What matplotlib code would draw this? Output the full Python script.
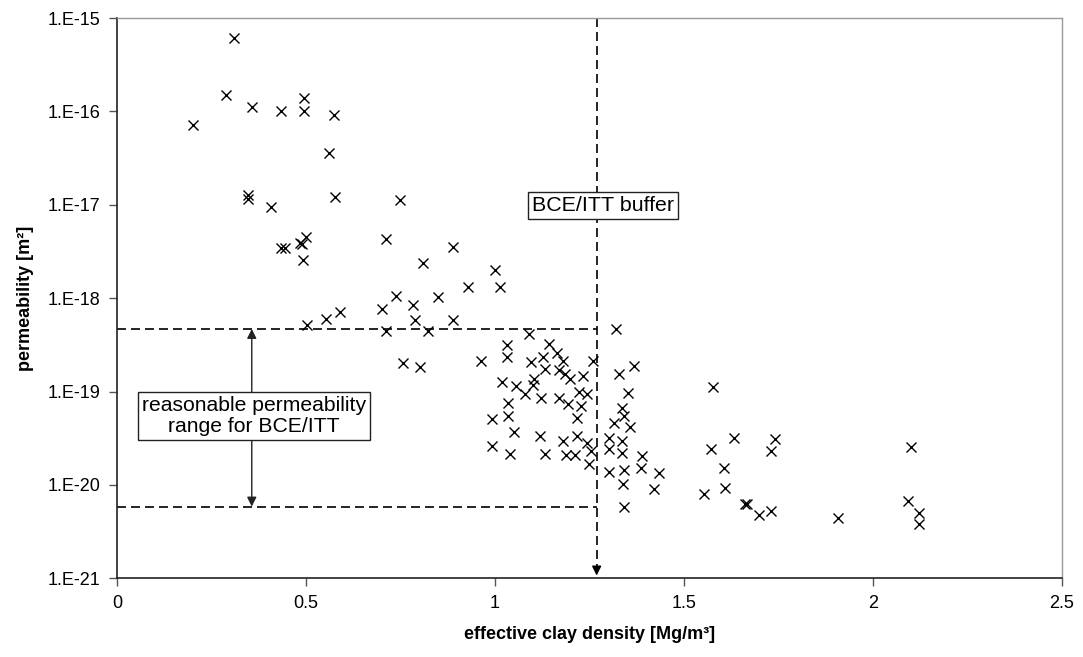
import numpy as np
import matplotlib
matplotlib.use("Agg")
import matplotlib.pyplot as plt
from matplotlib.ticker import FixedLocator, FuncFormatter

plt.rcParams['font.family'] = ['Liberation Sans', 'DejaVu Sans']

# effective clay density [Mg/m3] and permeability [m2]
density = [0.200, 0.289, 0.308, 0.346, 0.346, 0.357, 0.407, 0.433, 0.434, 0.443,
           0.483, 0.489, 0.492, 0.494, 0.494, 0.500, 0.501, 0.553, 0.560, 0.573,
           0.577, 0.590, 0.700, 0.711, 0.711, 0.737, 0.748, 0.757, 0.784, 0.788,
           0.801, 0.810, 0.823, 0.850, 0.890, 0.890, 0.929, 0.962, 0.991, 0.991,
           1.000, 1.013, 1.018, 1.031, 1.031, 1.034, 1.034, 1.040, 1.049, 1.056,
           1.079, 1.091, 1.094, 1.100, 1.104, 1.119, 1.122, 1.128, 1.131, 1.132,
           1.144, 1.163, 1.168, 1.168, 1.179, 1.181, 1.185, 1.188, 1.192, 1.199,
           1.212, 1.216, 1.216, 1.223, 1.228, 1.232, 1.243, 1.243, 1.249, 1.253,
           1.259, 1.303, 1.303, 1.303, 1.316, 1.320, 1.329, 1.337, 1.337, 1.337,
           1.340, 1.342, 1.342, 1.342, 1.353, 1.357, 1.369, 1.387, 1.388, 1.422,
           1.433, 1.554, 1.572, 1.578, 1.606, 1.609, 1.633, 1.662, 1.666, 1.699,
           1.731, 1.730, 1.741, 1.909, 2.092, 2.100, 2.123, 2.123]
permeability = [7.1e-17, 1.50e-16, 6.15e-16, 1.27e-17, 1.15e-17, 1.12e-16, 9.4e-18, 1.01e-16, 3.47e-18, 3.47e-18,
                3.87e-18, 3.8e-18, 2.57e-18, 1.38e-16, 1.01e-16, 4.5e-18, 5.16e-19, 5.98e-19, 3.56e-17, 9.1e-17,
                1.22e-17, 7.06e-19, 7.66e-19, 4.3e-18, 4.49e-19, 1.06e-18, 1.12e-17, 2.0e-19, 8.45e-19, 5.84e-19,
                1.82e-19, 2.37e-18, 4.49e-19, 1.04e-18, 3.5e-18, 5.9e-19, 1.33e-18, 2.14e-19, 5.05e-20, 2.62e-20,
                2.0e-18, 1.33e-18, 1.26e-19, 3.15e-19, 2.33e-19, 7.5e-20, 5.48e-20, 2.15e-20, 3.72e-20, 1.15e-19,
                9.36e-20, 4.14e-19, 2.06e-19, 1.18e-19, 1.36e-19, 3.35e-20, 8.6e-20, 2.33e-19, 2.15e-20, 1.73e-19,
                3.24e-19, 2.57e-19, 1.70e-19, 8.6e-20, 2.14e-19, 2.96e-20, 1.54e-19, 2.1e-20, 7.3e-20, 1.36e-19,
                2.1e-20, 5.26e-20, 3.35e-20, 9.98e-20, 7.0e-20, 1.47e-19, 9.36e-20, 2.84e-20, 1.66e-20, 2.33e-20,
                2.14e-19, 3.21e-20, 2.41e-20, 1.39e-20, 4.65e-20, 4.66e-19, 1.53e-19, 6.73e-20, 2.96e-20, 2.18e-20,
                1.02e-20, 5.48e-20, 1.45e-20, 5.86e-21, 9.73e-20, 4.15e-20, 1.88e-19, 1.53e-20, 2.04e-20, 9.0e-21,
                1.35e-20, 7.9e-21, 2.41e-20, 1.11e-19, 1.53e-20, 9.35e-21, 3.21e-20, 6.2e-21, 6.2e-21, 4.78e-21,
                5.27e-21, 2.31e-20, 3.08e-20, 4.4e-21, 6.75e-21, 2.57e-20, 5.06e-21, 3.8e-21]

buffer_density = 1.269
range_upper = 4.68e-19
range_lower = 5.86e-21

x_ticks = [0, 0.5, 1, 1.5, 2, 2.5]
y_ticks = [1e-21, 1e-20, 1e-19, 1e-18, 1e-17, 1e-16, 1e-15]

fig = plt.figure(figsize=(10.83, 6.57), dpi=100)
ax = fig.add_axes([0.1083, 0.1198, 0.872, 0.8528])

ax.plot(density, permeability, linestyle='none', marker='x', color='black',
        markersize=6.5, markeredgewidth=1.0, zorder=3)

ax.set_yscale('log')
ax.set_xlim(0, 2.5)
ax.set_ylim(1e-21, 1e-15)

dash = (0, (5.4, 3))
# range lines and buffer line
ax.plot([0, buffer_density], [range_upper, range_upper], color='black', lw=1.2, linestyle=dash, zorder=2)
ax.plot([0, buffer_density], [range_lower, range_lower], color='black', lw=1.2, linestyle=dash, zorder=2)
ax.plot([buffer_density, buffer_density], [1e-15, 1.12e-21], color='black', lw=1.2, linestyle=dash, zorder=2)
ax.annotate('', xy=(buffer_density, 1e-21), xytext=(buffer_density, 1.3e-21),
            arrowprops=dict(arrowstyle='-|>', color='black', lw=1.0, mutation_scale=14), zorder=2)

# double arrow for the reasonable range
ax.annotate('', xy=(0.356, range_lower), xytext=(0.356, range_upper),
            arrowprops=dict(arrowstyle='<|-|>', color='#222222', lw=1.0, mutation_scale=14,
                            shrinkA=0, shrinkB=0), zorder=2)

ax.text(0.362, 5.5e-20, 'reasonable permeability\nrange for BCE/ITT', ha='center', va='center',
        fontsize=15.2, linespacing=1.15, zorder=4,
        bbox=dict(boxstyle='square,pad=0.18', facecolor='white', edgecolor='#222222', lw=1.0))
ax.text(1.286, 9.75e-18, 'BCE/ITT buffer', ha='center', va='center', fontsize=15.4, zorder=4,
        bbox=dict(boxstyle='square,pad=0.18', facecolor='white', edgecolor='#222222', lw=1.0))

ax.xaxis.set_major_locator(FixedLocator(x_ticks))
ax.xaxis.set_major_formatter(FuncFormatter(lambda v, p: '%g' % v))
ax.yaxis.set_major_locator(FixedLocator(y_ticks))
ax.yaxis.set_major_formatter(FuncFormatter(lambda v, p: '1.E%d' % round(np.log10(v))))
ax.yaxis.set_minor_locator(FixedLocator([]))

ax.tick_params(axis='both', direction='out', length=6, width=1, color='#555555',
               labelsize=13, pad=6)

for side in ['left', 'bottom']:
    ax.spines[side].set_color('#222222')
    ax.spines[side].set_linewidth(1.2)
for side in ['top', 'right']:
    ax.spines[side].set_color('#999999')
    ax.spines[side].set_linewidth(1.0)

ax.set_xlabel('effective clay density [Mg/m³]', fontsize=13, fontweight='bold', labelpad=10)
ax.set_ylabel('permeability [m²]', fontsize=13, fontweight='bold', labelpad=10)

fig.savefig('out.png', dpi=100)
